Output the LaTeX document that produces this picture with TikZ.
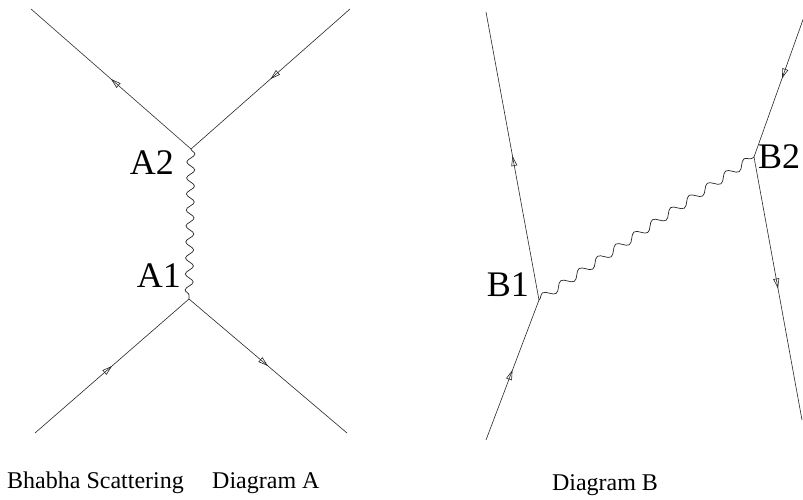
\documentclass[tikz,border=0pt]{standalone}
\usepackage{fontspec}
\setmainfont{Liberation Serif}
\usetikzlibrary{positioning, arrows.meta, decorations.pathmorphing, decorations.markings}
\tikzset{
  fermion/.style={
    draw=black!85, line width=0.6pt, postaction={decorate},
    decoration={markings,
      mark=at position #1 with {\arrow{Triangle[open, length=10pt, width=6pt]}}}
  },
  fermion/.default=0.5,
  photon/.style={
    draw=black!85, line width=0.7pt, decorate,
    decoration={snake, segment length=#1, amplitude=4pt}
  },
  photon/.default=16pt,
  vlabel/.style={inner sep=0pt, font=\fontsize{36}{36}\selectfont},
  caption/.style={inner sep=0pt, font=\fontsize{24}{24}\selectfont},
}

\begin{document}
\begin{tikzpicture}[x=1pt, y=-1pt]
  \useasboundingbox (0,0) rectangle (803,499);

  % Diagram A
  \coordinate (A2) at (191,149);
  \coordinate (A1) at (189,299);
  \coordinate (a tl) at (31,9);
  \coordinate (a tr) at (350,9);
  \coordinate (a bl) at (35,433);
  \coordinate (a br) at (347,433);

  \draw[fermion] (A2) -- (a tl);
  \draw[fermion] (a tr) -- (A2);
  \draw[fermion] (a bl) -- (A1);
  \draw[fermion] (A1) -- (a br);
  \draw[photon] (A2) -- (A1);

  \node[vlabel, below left=1pt and 17pt of A2] (lA2) {A2};
  \node[vlabel, above left=11pt and 8pt of A1] (lA1) {A1};

  % Diagram B
  \coordinate (B1) at (539,300);
  \coordinate (B2) at (754,157);
  \coordinate (b tl) at (486,12);
  \coordinate (b bl) at (486,440);
  \coordinate (b tr) at (810,0);
  \coordinate (b br) at (802,420);

  \draw[fermion] (B1) -- (b tl);
  \draw[fermion] (b bl) -- (B1);
  \draw[fermion] (b tr) -- (B2);
  \draw[fermion] (B2) -- (b br);
  \draw[photon=22pt] (B1) -- (B2);

  \node[vlabel, above left=3pt and 10pt of B1] (lB1) {B1};
  \node[vlabel, right=4pt of B2] (lB2) {B2};

  % captions
  \node[caption, anchor=base west] (bhabha) at (7,488) {Bhabha Scattering};
  \node[caption, base right=28pt of bhabha] (capA) {Diagram A};
  \node[caption, anchor=base] (capB) at (605,490) {Diagram B};
\end{tikzpicture}
\end{document}
